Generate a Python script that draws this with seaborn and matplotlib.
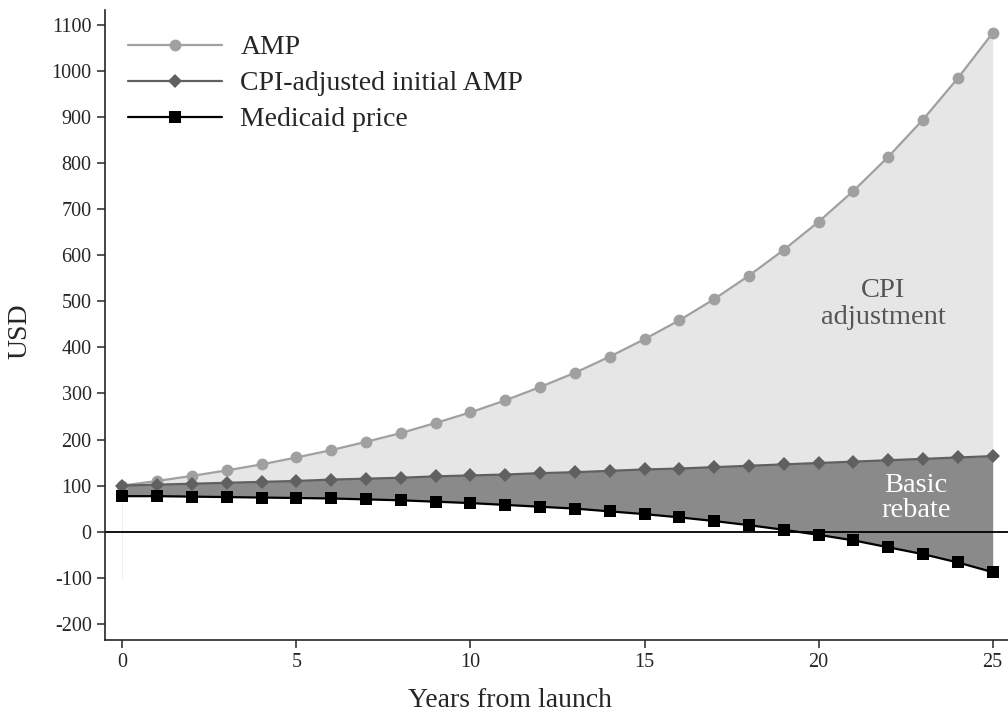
import numpy as np
import pandas as pd
import matplotlib
matplotlib.use("Agg")
import matplotlib.pyplot as plt
import seaborn as sns

# valeurs
years = list(range(26))
amp = [100, 110, 121, 133, 146, 161, 177, 195, 214, 236, 259, 285, 314, 345, 380,
       418, 459, 505, 556, 612, 673, 740, 814, 895, 985, 1083]
cpi_amp = [100, 102, 104, 106, 108, 110, 113, 115, 117, 120, 122, 124, 127, 129, 132,
           135, 137, 140, 143, 146, 149, 152, 155, 158, 161, 164]
medicaid = [77, 77, 76, 75, 74, 73, 72, 70, 68, 65, 62, 58, 54, 50, 44,
            38, 31, 23, 14, 4, -7, -19, -34, -49, -67, -88]
series_names = ["AMP", "CPI-adjusted initial AMP", "Medicaid price"]

df = pd.DataFrame({"year": years, "AMP": amp,
                   "CPI-adjusted initial AMP": cpi_amp, "Medicaid price": medicaid})

sns.set_style("ticks")
plt.rcParams["font.family"] = ["Liberation Serif", "DejaVu Serif"]
plt.rcParams["axes.unicode_minus"] = False

fig = plt.figure(figsize=(10.08, 7.13), dpi=100)
ax = fig.add_axes([0.104, 0.102, 0.896, 0.884])

# zones
ax.fill_between(df["year"], df["CPI-adjusted initial AMP"], df["AMP"],
                color="#e6e6e6", lw=0, zorder=1)
ax.fill_between(df["year"], df["Medicaid price"], df["CPI-adjusted initial AMP"],
                color="#8a8a8a", lw=0, zorder=1)
ax.plot([0, 0], [-100, medicaid[0]], color="#eeeeee", lw=0.8, zorder=1)
ax.axhline(0, color="black", lw=1.3, zorder=2)

styles = {"AMP": ("#a0a0a0", "o", 8.5),
          "CPI-adjusted initial AMP": ("#606060", "D", 7.5),
          "Medicaid price": ("black", "s", 8)}
for name in series_names:
    c, m, ms = styles[name]
    sns.lineplot(data=df, x="year", y=name, ax=ax, color=c, marker=m, markersize=ms,
                 markeredgewidth=0, lw=1.6, label=name, zorder=3)

ax.text(21.86, 494, "CPI\nadjustment", ha="center", va="center", fontsize=20.5,
        color="#555555", linespacing=1.12)
ax.text(22.8, 72, "Basic\nrebate", ha="center", va="center", fontsize=20.5,
        color="white", linespacing=1.0)

ax.set_xlim(-0.5, 25.44)
ax.set_ylim(-236, 1133)
ax.set_xticks([0, 5, 10, 15, 20, 25])
ax.set_yticks(range(-200, 1101, 100))
ax.tick_params(labelsize=14.5, length=6, width=1.1, direction="out")
ax.set_xlabel("Years from launch", fontsize=20)
ax.set_ylabel("USD", fontsize=20)
ax.xaxis.set_label_coords(0.448, -0.075)
ax.yaxis.set_label_coords(-0.08, 0.49)
for s in ["top", "right"]:
    ax.spines[s].set_visible(False)
for s in ["left", "bottom"]:
    ax.spines[s].set_linewidth(1.2)

ax.legend(loc="upper left", frameon=False, fontsize=20, handlelength=3.4,
          handletextpad=0.65, borderpad=0, borderaxespad=0, labelspacing=0.38,
          bbox_to_anchor=(128 / 1008, 1 - 35 / 713), bbox_transform=fig.transFigure)

fig.savefig("out.png", dpi=100)
